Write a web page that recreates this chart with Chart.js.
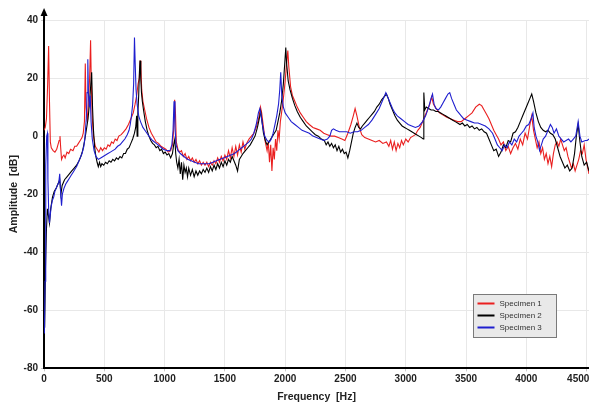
<!DOCTYPE html>
<html>
<head>
<meta charset="utf-8">
<script src="https://cdn.jsdelivr.net/npm/chart.js@4/dist/chart.umd.min.js"></script>
<style>
html,body{margin:0;padding:0;background:#fff;}
#wrap{width:589px;height:403px;position:relative;}
</style>
</head>
<body>
<div id="wrap"><canvas id="c" width="589" height="403"></canvas></div>
<script>
// ---------- data ----------
const seriesNames = ["Specimen 1", "Specimen 2", "Specimen 3"];
const seriesColors = ["#ea1f1f", "#000000", "#1f1fcf"];
const xTicks = [0, 500, 1000, 1500, 2000, 2500, 3000, 3500, 4000, 4500];
const yTicks = [-80, -60, -40, -20, 0, 20, 40];

const freq1 = [0,10,20,30,38,45,52,60,75,90,105,115,125,132,138,145,155,165,175,190,205,220,240,255,270,285,300,315,325,335,342,348,358,368,378,386,392,400,410,425,440,455,470,485,500,515,530,545,560,575,590,605,620,640,660,680,700,720,740,755,768,780,790,797,803,810,820,835,850,870,890,910,930,950,970,990,1010,1030,1050,1065,1075,1083,1090,1097,1110,1125,1140,1155,1170,1185,1200,1215,1230,1245,1260,1275,1290,1305,1320,1335,1350,1365,1380,1395,1410,1425,1440,1455,1470,1485,1500,1515,1530,1545,1560,1575,1590,1605,1620,1635,1650,1665,1680,1700,1720,1740,1760,1780,1795,1805,1820,1835,1850,1860,1870,1880,1890,1900,1910,1920,1930,1940,1950,1960,1970,1985,2000,2012,2022,2030,2045,2060,2080,2100,2125,2150,2175,2200,2230,2260,2290,2320,2350,2380,2410,2440,2470,2495,2520,2545,2565,2580,2595,2615,2635,2660,2690,2720,2750,2780,2810,2840,2860,2875,2890,2905,2920,2935,2950,2965,2980,3000,3020,3040,3060,3080,3100,3120,3140,3160,3180,3200,3215,3230,3245,3260,3280,3300,3320,3340,3370,3400,3430,3460,3490,3520,3550,3580,3610,3630,3650,3670,3690,3710,3730,3750,3770,3790,3810,3830,3850,3870,3890,3910,3930,3950,3970,3990,4010,4030,4045,4060,4075,4090,4105,4120,4135,4150,4165,4180,4195,4210,4225,4240,4255,4270,4285,4300,4315,4330,4345,4360,4375,4390,4405,4420,4435,4450,4465,4480,4495,4510,4520];
const amp1 = [2,3,6,18,31,12,-2,-4,-5,-5.5,-4.5,-3,-1.5,0,-4,-8,-7,-6.5,-7.5,-5.5,-6,-4.5,-5,-3.5,-3.5,-2.5,-1.5,-0.5,1,5,25,10,5,12,20,33,18,6,0,-3.5,-4.5,-5.5,-4,-5,-4,-4.5,-3,-3.5,-2,-2.5,-1,-1.5,0,0.5,1.5,2.5,4,6,8,11,14,18,20,26,24,16,12,9,6,3,1,-0.5,-2,-2.5,-3.5,-4,-4.5,-5.5,-5,-3,2,12.5,8,-2,-4.5,-5.5,-5,-7,-6,-8,-7,-8.5,-7.5,-9,-8,-9.5,-8.5,-10,-9,-10,-9,-10.5,-9,-10,-8.5,-9.5,-7.5,-9,-7,-8.5,-6.5,-8,-5,-7.5,-4,-7,-3.5,-6.5,-3,-5.5,-2,-4.5,-2.5,-1,0,1,3,6,10,8,3,-2,-5,-2,-9,-3,-12,-4,-8,-1,-5,2,-1,5,8,13,19,25,29.5,24,17,14,12,10,8,6.5,5,4,3,2.5,2,1,0.5,0,0,-0.5,-1,-1.5,1,4,7,9.5,7,3,0.5,-0.5,-1,-1.5,-2,-1.5,-2.5,-2,-3.5,-1.5,-4.5,-2,-5,-2.5,-4,-1.5,-3,-1,-2,-0.5,0,0.5,2,3,5,7,9,11,13.5,11,10,9,8,7.5,7,6.5,6,5.5,5,5,6,7,8,10,11,10.5,9,7.5,6,4,2,0.5,-1,-3,-2,-5,-3.5,-6,-4,-2.5,-4.5,-1,-3,1,-1,4,7,2,-1,-4,-2,-6,-4,-8,-6,-9.5,-7,-10.5,-6,-3,-2,-3.5,-1,-3,-5,-4,-7,-9,-11,-9.5,-12,-10,-8,-5,-6,-3,-8,-11,-13];

const freq2 = [5,12,20,28,35,45,55,70,85,100,115,130,140,150,170,190,210,230,250,270,290,305,320,335,350,365,378,388,395,402,410,420,430,440,450,460,470,480,495,510,525,540,555,570,585,600,615,630,645,660,675,690,705,720,735,750,760,768,772,778,785,791,796,802,808,815,825,840,855,870,885,900,915,930,945,960,975,990,1005,1020,1035,1050,1065,1075,1085,1092,1100,1110,1120,1130,1140,1150,1160,1170,1180,1190,1200,1215,1230,1245,1260,1275,1290,1305,1320,1335,1350,1365,1380,1395,1410,1425,1440,1455,1470,1485,1500,1515,1530,1545,1560,1575,1590,1605,1620,1635,1650,1670,1690,1710,1730,1750,1770,1785,1797,1808,1820,1835,1850,1865,1880,1895,1910,1925,1940,1955,1970,1985,1998,2005,2012,2025,2040,2060,2080,2100,2125,2150,2175,2200,2225,2250,2275,2300,2325,2340,2355,2370,2385,2400,2415,2430,2445,2460,2475,2490,2505,2520,2535,2550,2565,2580,2595,2610,2625,2640,2660,2680,2700,2720,2740,2760,2780,2800,2820,2840,2855,2870,2890,2910,2930,2950,2970,2990,3010,3030,3050,3070,3090,3110,3130,3145,3150,3158,3170,3190,3210,3230,3250,3270,3290,3310,3330,3350,3370,3390,3410,3430,3450,3470,3490,3510,3530,3550,3570,3590,3610,3630,3650,3670,3690,3710,3730,3750,3770,3790,3810,3830,3850,3870,3890,3910,3930,3950,3970,3990,4010,4030,4045,4060,4080,4100,4120,4140,4160,4180,4200,4220,4240,4260,4280,4300,4320,4340,4360,4380,4400,4415,4430,4445,4460,4480,4500,4520];
const amp2 = [-66,-45,-32,-25,-27,-30,-25,-21,-19,-18,-16.5,-15,-20,-17,-15,-14,-13,-12,-11,-10,-8.5,-7,-5,-2,2,6,12,18,22,10,2,-4,-7,-9,-10.5,-9,-10.5,-9.5,-10,-9,-9.5,-8.5,-9,-8,-8.5,-7.5,-8,-7,-7.5,-6,-6,-4.5,-4,-2.5,-1,1,3,7,0,8,14,22,26,20,15,12,9,5,2,0,-1.5,-2.5,-3,-4,-3.5,-5,-4.5,-6,-5.5,-6.5,-6,-7.5,-6,-3,-1,-6,-9,-11,-8,-13,-9,-15,-10,-12.5,-11,-14,-11,-13.5,-11.5,-14,-12,-13.5,-12,-13,-11.5,-12.5,-11,-12.5,-10.5,-12,-10,-11.5,-9.5,-11,-9,-10.5,-8.5,-10,-8,-9,-7,-8.5,-10,-12,-8,-7,-6,-5,-4,-3,-1.5,0,3,6,8.5,5,1,-1.5,-3,-2,-1,0,1,2,5,8,12,18,26,30.5,25,19,16,13,10.5,8.5,6.5,5,3.5,2.5,1.5,0.5,0,-1,-1.5,-3,-2,-3.5,-2.5,-4,-3,-5,-3.5,-5.5,-4.5,-6,-5.5,-7.5,-5,-2,1,3,4.5,3,2.5,3.5,4.5,5.5,6.5,7.5,8.5,10,11,12.5,13.5,14.5,13,11,9,7,5.5,4.5,3.5,3,2.5,2,1.5,1,0.5,0,-0.5,-1,15,9,10,9.5,9,9,8.5,8.5,8,7.5,7,6.5,6,5.5,5,4.5,4,4.5,3.5,4,3,3.5,2.5,3,2,2.5,1.5,1,-1,-3,-5,-4.5,-7,-5.5,-3,-4,-1.5,-2,1,1.5,3,5,7,9,11,13,14.5,12,8,5,3,2,1.5,2,1,0.5,-1,-4,-7,-9,-11,-10,-12,-11,-6,0,4,-2,-7,-10,-9,-12];

const freq3 = [3,8,12,16,22,28,32,38,45,52,60,70,80,90,100,110,122,130,138,145,152,165,180,195,210,225,240,255,270,285,300,315,330,340,350,357,363,368,375,383,390,400,415,430,450,470,490,510,530,550,570,590,610,630,650,670,690,705,715,725,735,743,750,756,763,772,785,800,820,845,870,900,930,960,990,1020,1045,1060,1070,1078,1086,1095,1110,1130,1160,1190,1220,1250,1280,1310,1340,1370,1400,1430,1460,1490,1520,1550,1580,1610,1640,1670,1700,1720,1740,1760,1778,1790,1800,1815,1830,1850,1870,1885,1900,1915,1930,1945,1955,1963,1972,1985,2000,2025,2050,2080,2110,2140,2170,2200,2230,2260,2290,2320,2350,2370,2385,2400,2420,2450,2480,2510,2540,2570,2600,2630,2660,2690,2720,2750,2780,2800,2820,2835,2850,2870,2890,2910,2930,2960,2990,3020,3050,3080,3110,3140,3165,3190,3210,3222,3235,3250,3270,3290,3310,3330,3350,3365,3380,3400,3420,3440,3460,3480,3510,3540,3570,3600,3630,3660,3690,3720,3740,3760,3780,3800,3820,3840,3860,3880,3900,3920,3940,3960,3980,4000,4020,4040,4055,4065,4080,4095,4110,4125,4140,4160,4180,4200,4215,4230,4250,4270,4290,4310,4330,4350,4370,4390,4410,4430,4445,4460,4490,4505,4520];
const amp3 = [-68,-50,-30,-10,0,1,-15,-25,-30,-27,-24,-22,-21,-19,-18,-17,-16,-13,-20,-24,-20,-18,-16.5,-15.5,-14.5,-13.5,-12.5,-11.5,-10.5,-9,-7.5,-6,-3.5,0,6,15,26.5,15,10,14,5,-1,-5,-7,-8,-7.5,-7,-6.5,-6,-5.5,-5,-4.5,-3.5,-3,-2,-1,0.5,2,4,7,11,18,34,25,16,11,7,5,3,1.5,0,-1.5,-2.5,-3.5,-4.5,-5,-5,-3,2,12,3,-3,-5,-6,-7,-8,-8.5,-9,-9.5,-9.5,-9.5,-9.5,-9,-8.5,-8,-7.5,-7,-6.5,-6,-5,-4,-3,-2,-1,1,4,8,9.5,7,3,0,-1.5,-2,-1,1,4,7,11,16,22,14,10,8,6.5,5,4,3,2,1.5,1,0,-0.5,-1,-1.5,-1,0,2,2.5,2,1.5,1.5,1.5,1,1.5,1.5,2,3,4,5.5,7.5,9.5,11.5,13.5,15,13.5,11.5,9.5,8,7,6,5,4,3.5,3,3.5,5,7,10,13,14.5,11,9.5,9,10,11.5,13,14.5,15,13,11,9,8,7,6,5.5,5,4.5,4.5,4,3.5,2.5,1,-1,-3,-4,-5,-3,-4,-2,-3,-1,-2,0,1,2,3.5,4,6,8,3,0,-2,-5,-3,-1,0,2,4,3,1,2.5,0,-1,-2,-1.5,-1,-2,-1,0,5,0,-2,-1.5,-1.5,-1];

const freqs = [freq1, freq2, freq3];
const amps = [amp1, amp2, amp3];

// ---------- chart ----------
const datasets = seriesNames.map((name, k) => ({
  label: name,
  data: freqs[k].map((f, i) => ({ x: f, y: amps[k][i] })),
  borderColor: seriesColors[k],
  backgroundColor: seriesColors[k],
  borderWidth: 1.1,
  pointRadius: 0,
  showLine: true,
  tension: 0,
  order: 3 - k
}));

const axisArrow = {
  id: 'axisArrow',
  afterDraw(chart) {
    const ctx = chart.ctx;
    const a = chart.chartArea;
    const x = chart.scales.x.left;
    ctx.save();
    ctx.strokeStyle = '#000';
    ctx.fillStyle = '#000';
    ctx.lineWidth = 2;
    ctx.beginPath();
    ctx.moveTo(x, a.top);
    ctx.lineTo(x, a.top - 6);
    ctx.stroke();
    ctx.beginPath();
    ctx.moveTo(x, a.top - 12);
    ctx.lineTo(x - 3.5, a.top - 4);
    ctx.lineTo(x + 3.5, a.top - 4);
    ctx.closePath();
    ctx.fill();
    ctx.restore();
  }
};

const boxLegend = {
  id: 'boxLegend',
  afterDraw(chart) {
    const ctx = chart.ctx;
    const bx = 473.5, by = 294.5, bw = 83, bh = 43;
    ctx.save();
    ctx.fillStyle = '#e9e9e9';
    ctx.fillRect(bx, by, bw, bh);
    ctx.strokeStyle = '#7a7a7a';
    ctx.lineWidth = 1;
    ctx.strokeRect(bx, by, bw, bh);
    ctx.font = '8px "Liberation Sans", Arial, sans-serif';
    ctx.textBaseline = 'middle';
    chart.data.datasets.forEach((ds, i) => {
      const y = by + 9 + i * 12;
      ctx.strokeStyle = ds.borderColor;
      ctx.lineWidth = 2;
      ctx.beginPath();
      ctx.moveTo(bx + 4, y);
      ctx.lineTo(bx + 21, y);
      ctx.stroke();
      ctx.fillStyle = '#333';
      ctx.fillText(ds.label, bx + 26, y);
    });
    ctx.restore();
  }
};

const tickFont = { family: '"Liberation Sans", Arial, sans-serif', size: 10, weight: 'bold' };
const titleFont = { family: '"Liberation Sans", Arial, sans-serif', size: 10.5, weight: 'bold' };

new Chart(document.getElementById('c'), {
  type: 'scatter',
  data: { datasets },
  options: {
    responsive: false,
    animation: false,
    layout: { padding: { top: 20, left: 8, right: 0, bottom: 0 } },
    plugins: { legend: { display: false }, tooltip: { enabled: false } },
    scales: {
      x: {
        type: 'linear',
        min: 0,
        max: 4520,
        afterBuildTicks(scale) { scale.ticks = xTicks.map(v => ({ value: v })); },
        afterFit(scale) { scale.paddingRight = 0; },
        ticks: { font: tickFont, color: '#222', padding: 2, maxRotation: 0, autoSkip: false,
                 callback: v => (v === 4500 ? String(v) + '\u2007\u2007\u2007' : String(v)) },
        grid: { color: '#e8e8e8', tickColor: '#c8c8c8', tickLength: 3, drawTicks: true },
        border: { color: '#000', width: 2 },
        title: { display: true, text: 'Frequency  [Hz]', font: titleFont, color: '#222', padding: { top: 3, bottom: 0 } }
      },
      y: {
        type: 'linear',
        min: -80,
        max: 40,
        afterBuildTicks(scale) { scale.ticks = yTicks.map(v => ({ value: v })); },
        ticks: { font: tickFont, color: '#222', padding: 3, callback: v => String(v) },
        grid: { color: '#e8e8e8', tickColor: '#c8c8c8', tickLength: 3, drawTicks: true },
        border: { color: '#000', width: 2 },
        title: { display: true, text: 'Amplitude  [dB]', font: titleFont, color: '#222', padding: { top: 0, bottom: 0 } }
      }
    }
  },
  plugins: [axisArrow, boxLegend]
});
</script>
</body>
</html>
